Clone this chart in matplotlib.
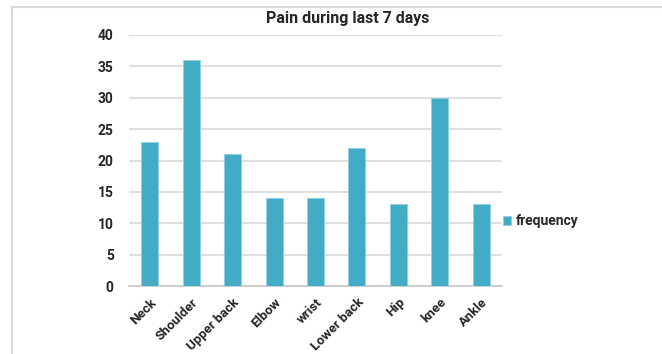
import numpy as np
import matplotlib.pyplot as plt
from matplotlib.lines import Line2D

# data
parts = ["Neck", "Shoulder", "Upper back", "Elbow", "wrist", "Lower back", "Hip", "knee", "Ankle"]
frequency = [23, 36, 21, 14, 14, 22, 13, 30, 13]
y_ticks = [0, 5, 10, 15, 20, 25, 30, 35, 40]

bar_color = "#42abc6"
grid_color = "#d9d9d9"
text_color = "#262626"

plt.rcParams['font.family'] = ['Roboto', 'DejaVu Sans']

fig = plt.figure(figsize=(6.62, 3.54), dpi=100)
ax = fig.add_axes([129 / 662, 1 - 286 / 354, (502 - 129) / 662, (286 - 35) / 354])

x = np.arange(len(parts))
bars = ax.bar(x, frequency, width=0.41, color=bar_color, edgecolor="#8fd0e0",
              linewidth=0.6, zorder=3, label="frequency")

ax.set_xlim(-0.5, len(parts) - 0.5)
ax.set_ylim(0, 40)
ax.set_yticks(y_ticks)
ax.set_yticklabels([str(v) for v in y_ticks], fontsize=10, fontweight="bold", color=text_color)
ax.set_xticks(x)
ax.set_xticklabels(parts, rotation=45, ha="right", rotation_mode="anchor",
                   fontsize=9.5, fontweight="bold", color=text_color)
ax.tick_params(axis="both", length=0)
ax.tick_params(axis="y", pad=11)
ax.tick_params(axis="x", pad=7)

ax.grid(axis="y", color=grid_color, linewidth=1.2, zorder=0)
for s in ["top", "right", "left"]:
    ax.spines[s].set_visible(False)
ax.spines["bottom"].set_color("#c8c8c8")
ax.spines["bottom"].set_linewidth(1.2)

fig.text(348 / 662, 1 - 18 / 354, "Pain during last 7 days", ha="center", va="center",
         fontsize=11.5, fontweight="bold", color=text_color)

# legend to the right of the plot
fig.legend(handles=[bars], labels=["frequency"], loc="center left",
           bbox_to_anchor=(490 / 662, 1 - 221 / 354), frameon=False,
           prop={"weight": "bold", "size": 10}, handlelength=0.6, handleheight=0.6,
           handletextpad=0.35, labelcolor=text_color)

# outer chart frame (left and top edges visible)
fig.add_artist(Line2D([12 / 662, 12 / 662], [0, 1 - 7 / 354], transform=fig.transFigure,
                      color="#d9d9d9", linewidth=1.5))
fig.add_artist(Line2D([12 / 662, 1], [1 - 7 / 354, 1 - 7 / 354], transform=fig.transFigure,
                      color="#d9d9d9", linewidth=1.5))

fig.savefig("out.png", dpi=100)
